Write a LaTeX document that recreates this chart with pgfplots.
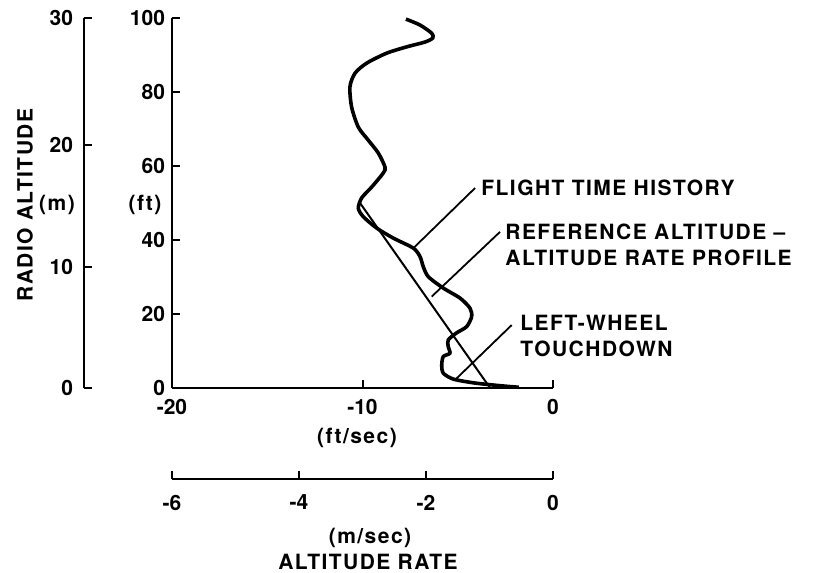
\documentclass[border=0pt]{standalone}
\usepackage{pgfplots}
\pgfplotsset{compat=1.18}
\usepackage{fontspec}
\setmainfont{TeX Gyre Heros}
\newcommand\lbl{\fontsize{10.5}{13}\selectfont\bfseries\addfontfeature{LetterSpace=7}}
\newcommand\num{\fontsize{10.5}{13}\selectfont\bfseries}

\pgfplotstableread{
rate alt
-7.72 99.7
-6.98 98.1
-6.37 95.9
-6.31 94.6
-6.72 93.5
-7.68 92.2
-8.73 90.5
-9.78 87.8
-10.39 85.1
-10.66 81.4
-10.57 75.9
-10.22 70.5
-9.70 67.0
-9.17 63.5
-8.82 59.7
-8.91 58.1
-9.52 54.3
-10.04 51.4
-10.22 48.6
-9.96 46.3
-9.25 43.2
-8.38 40.5
-7.33 37.8
-6.98 35.5
-6.81 32.8
-6.55 30.1
-5.76 27.0
-4.88 24.3
-4.36 21.6
-4.27 19.3
-4.53 16.6
-5.06 14.9
-5.50 13.0
-5.50 11.2
-5.41 9.4
-5.76 8.5
-5.84 6.2
-5.76 4.0
-5.23 2.4
-4.18 1.4
-3.13 0.8
-2.40 0.45
-1.80 0.2
}\flight

\pgfplotsset{
  common/.style={
    scale only axis,
    tick align=inside,
    major tick length=4pt,
    axis line style={line width=1pt},
    every tick/.style={black, line width=1pt},
    tick label style={font=\num},
  }
}

\begin{document}
\begin{tikzpicture}
% main axis: altitude (ft) vs altitude rate (ft/sec)
\begin{axis}[common,
  at={(0pt,0pt)}, anchor=south west,
  width=190.5pt, height=185pt,
  xmin=-20, xmax=0, ymin=0, ymax=100,
  axis lines*=left,
  xtick={-20,-10,0}, xticklabels={-20,-10,0},
  ytick={0,20,40,60,80,100}, yticklabels={0,20,40,60,80,100},
  xticklabel style={yshift=-2pt},
  clip=false,
]
\addplot[black, line width=1.8pt, smooth, tension=0.45] table[x=rate, y=alt] {\flight};
\addplot[black, line width=1pt] coordinates {(-10.13,50) (-3.3,0)};
% leader lines
\draw[line width=0.9pt] (axis cs:-7.33,37.8) -- (axis cs:-4.09,54.05);
\draw[line width=0.9pt] (axis cs:-6.37,24.7) -- (axis cs:-2.78,42.2);
\draw[line width=0.9pt] (axis cs:-5.06,2.6) -- (axis cs:-2.17,17.0);
\node[anchor=west, font=\lbl, inner sep=0pt] at (axis cs:-3.78,54.05) {FLIGHT TIME HISTORY};
\node[anchor=west, font=\lbl, inner sep=0pt, align=left] at (axis cs:-2.52,38.6)
  {REFERENCE ALTITUDE --\\ALTITUDE RATE PROFILE};
\node[anchor=west, font=\lbl, inner sep=0pt, align=left] at (axis cs:-1.73,14.05)
  {LEFT-WHEEL\\TOUCHDOWN};
\end{axis}

% metric altitude axis
\begin{axis}[common,
  at={(-44pt,0pt)}, anchor=south west,
  width=10pt, height=185pt,
  xmin=0, xmax=1, ymin=0, ymax=100,
  hide x axis, axis y line*=left,
  ytick={0,32.8,65.6,100}, yticklabels={0,10,20,30},
  yticklabel style={xshift=-2pt},
]
\end{axis}

% metric rate axis
\begin{axis}[common,
  at={(0pt,-45.5pt)}, anchor=south west,
  width=190.5pt, height=10pt,
  xmin=-6, xmax=0, ymin=0, ymax=1,
  hide y axis, axis x line*=bottom,
  xtick={-6,-4,-2,0}, xticklabels={-6,-4,-2,0},
  xticklabel style={yshift=-4.5pt},
]
\end{axis}

\node[font=\lbl] at (-13.5pt,91.5pt) {(ft)};
\node[font=\lbl] at (-57.5pt,91.5pt) {(m)};
\node[font=\lbl, rotate=90] at (-73.5pt,91.5pt) {RADIO ALTITUDE};
\node[font=\lbl] at (92.5pt,-25pt) {(ft/sec)};
\node[font=\lbl] at (99pt,-75pt) {(m/sec)};
\node[font=\lbl] at (98pt,-87pt) {ALTITUDE RATE};

\pgfresetboundingbox
\path (-86pt,-92.5pt) rectangle (321.5pt,194pt);
\end{tikzpicture}
\end{document}
